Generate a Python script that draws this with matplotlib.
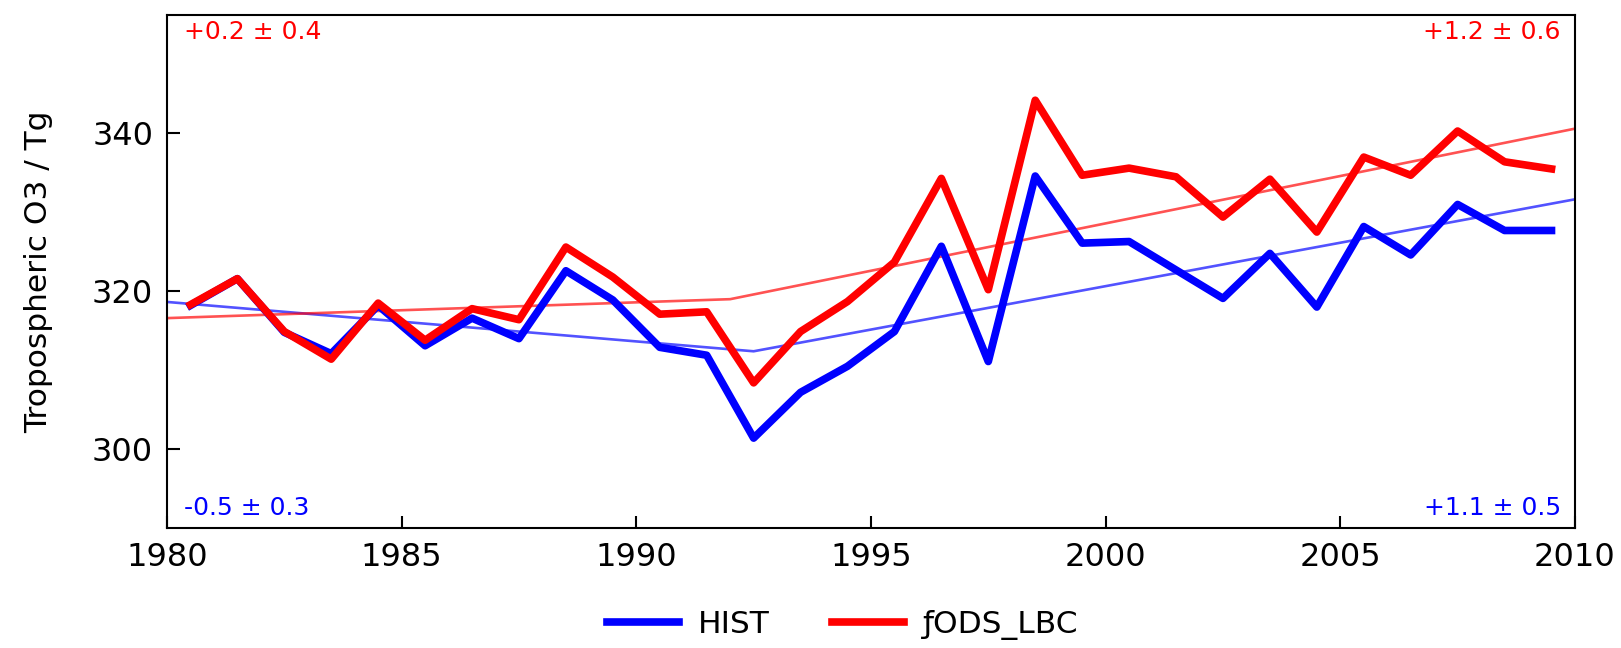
import numpy as np
import matplotlib
matplotlib.use("Agg")
import matplotlib.pyplot as plt

# Annual-mean tropospheric O3 burden (Tg), plotted at mid-year
years = list(range(1980, 2010))
hist = [318.2, 321.6, 314.8, 312.1, 318.2, 313.1, 316.6, 314.0, 322.6, 318.9,
        312.9, 311.9, 301.4, 307.2, 310.5, 314.9, 325.7, 311.1, 334.6, 326.1,
        326.3, 322.7, 319.1, 324.8, 318.0, 328.2, 324.6, 331.0, 327.7, 327.7]
fods = [318.3, 321.6, 314.9, 311.4, 318.5, 313.8, 317.8, 316.4, 325.6, 321.8,
        317.1, 317.4, 308.4, 314.9, 318.7, 323.7, 334.3, 320.2, 344.2, 334.7,
        335.6, 334.5, 329.4, 334.2, 327.5, 337.0, 334.7, 340.3, 336.4, 335.5]

# Piecewise-linear trends (Tg/yr) before/after the turning point
hist_break = (1992.5, 312.4)
hist_slopes = (-0.5, 1.1)
hist_errs = (0.3, 0.5)
fods_break = (1992.0, 319.0)
fods_slopes = (0.2, 1.2)
fods_errs = (0.4, 0.6)

series_labels = ["HIST", "ƒODS_LBC"]
x0, x1 = 1980, 2010

plt.rcParams["font.family"] = ["DejaVu Sans"]

fig = plt.figure(figsize=(16.21, 6.48), dpi=100)
ax = fig.add_axes([0.103, 0.185, 0.9716 - 0.103, 0.9769 - 0.185])

x = np.array(years) + 0.5


def trend_line(brk, slopes):
    bx, by = brk
    xs = np.array([x0, bx, x1])
    ys = np.array([by + slopes[0] * (x0 - bx), by, by + slopes[1] * (x1 - bx)])
    return xs, ys


tx, ty = trend_line(hist_break, hist_slopes)
ax.plot(tx, ty, color="blue", lw=1.9, alpha=0.68, zorder=2)
tx, ty = trend_line(fods_break, fods_slopes)
ax.plot(tx, ty, color="red", lw=1.9, alpha=0.68, zorder=2)

ax.plot(x, hist, color="blue", lw=5.5, label=series_labels[0], zorder=3)
ax.plot(x, fods, color="red", lw=5.5, label=series_labels[1], zorder=4)

ax.set_xlim(x0, x1)
ax.set_ylim(290, 355)
ax.set_xticks([1980, 1985, 1990, 1995, 2000, 2005, 2010])
ax.set_yticks([300, 320, 340])
ax.tick_params(direction="in", length=9, width=1.5, labelsize=23, pad=10)
for s in ax.spines.values():
    s.set_linewidth(1.5)
ax.set_ylabel("Tropospheric O3 / Tg", fontsize=22.5, labelpad=28)


def fmt(slope, err):
    return f"{slope:+.1f} \u00b1 {err:.1f}"


ax.text(0.012, 0.966, fmt(fods_slopes[0], fods_errs[0]), transform=ax.transAxes,
        color="red", fontsize=18, ha="left", va="center")
ax.text(0.990, 0.966, fmt(fods_slopes[1], fods_errs[1]), transform=ax.transAxes,
        color="red", fontsize=18, ha="right", va="center")
ax.text(0.012, 0.04, fmt(hist_slopes[0], hist_errs[0]), transform=ax.transAxes,
        color="blue", fontsize=18, ha="left", va="center")
ax.text(0.990, 0.04, fmt(hist_slopes[1], hist_errs[1]), transform=ax.transAxes,
        color="blue", fontsize=18, ha="right", va="center")

fig.legend(loc="center", bbox_to_anchor=(0.52, 0.035), ncol=2, frameon=False,
           fontsize=22.5, handlelength=2.3, handletextpad=0.6, columnspacing=2.0)

fig.savefig("out.png", dpi=100)
